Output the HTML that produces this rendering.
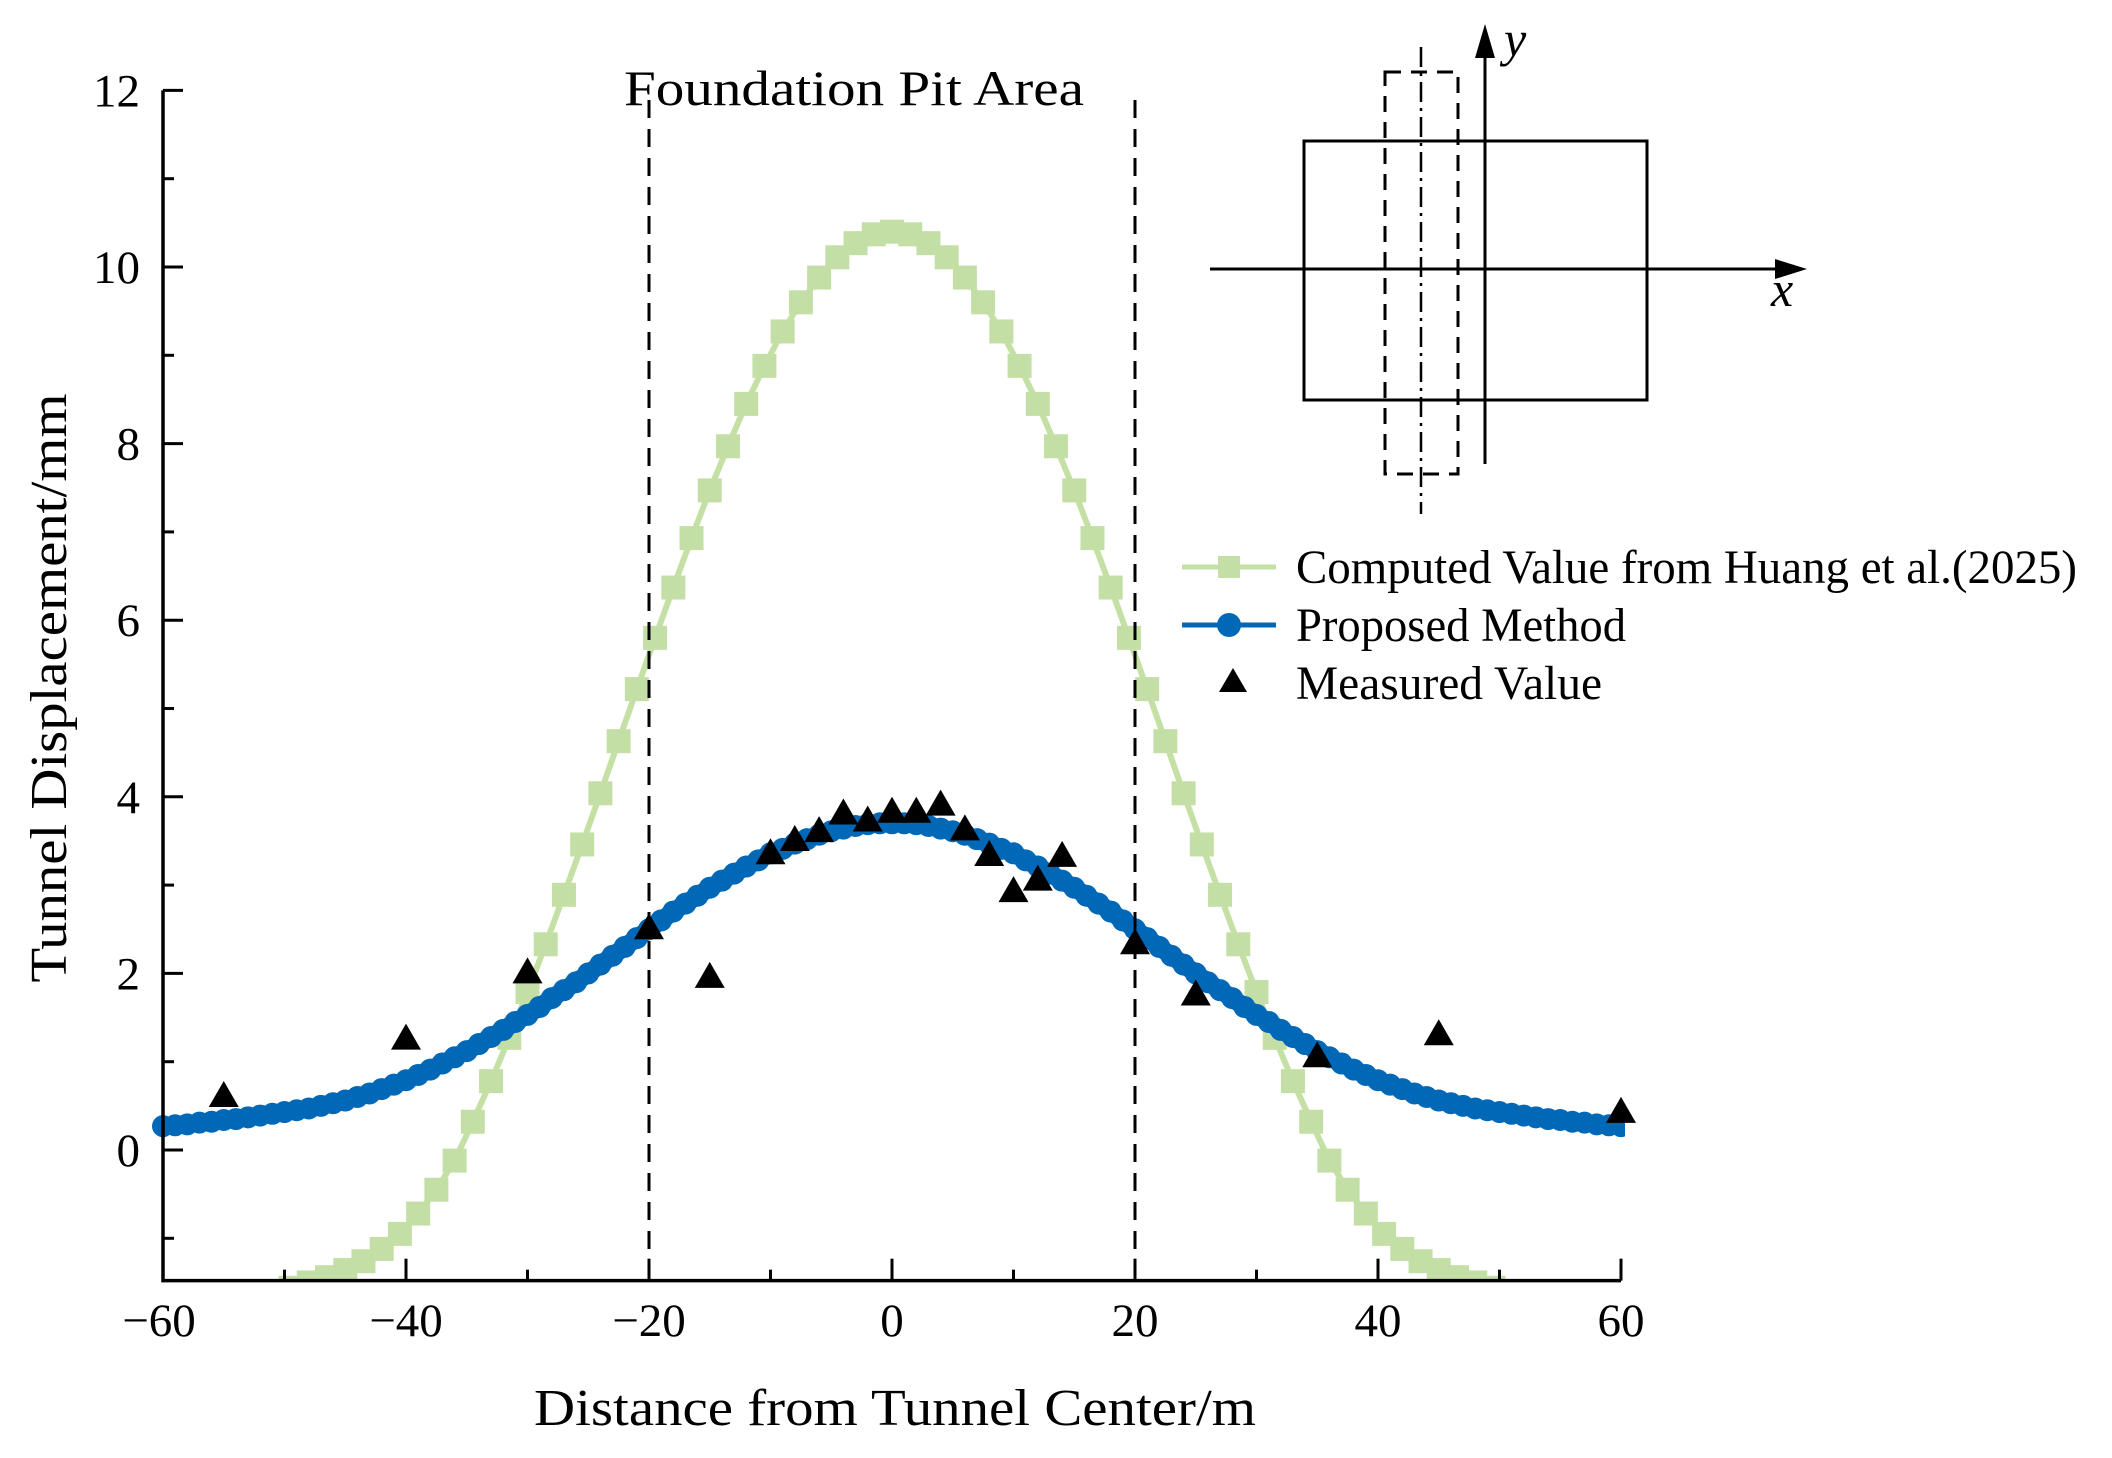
<!DOCTYPE html>
<html><head><meta charset="utf-8"><style>
html,body{margin:0;padding:0;background:#fff;}
svg{display:block;font-family:"Liberation Serif",serif;}
</style></head><body>
<svg id="chart" width="2112" height="1458" viewBox="0 0 2112 1458" xmlns="http://www.w3.org/2000/svg">
<defs><clipPath id="plotclip"><rect x="150" y="60" width="1475" height="1221"/></clipPath></defs>
<g id="plot" clip-path="url(#plotclip)"></g>
<g id="axes"></g>
<text x="854" y="105" font-size="50" text-anchor="middle" textLength="460" lengthAdjust="spacingAndGlyphs">Foundation Pit Area</text>
<text x="895" y="1425" font-size="52" text-anchor="middle" textLength="722" lengthAdjust="spacingAndGlyphs">Distance from Tunnel Center/m</text>
<text transform="translate(66,688) rotate(-90)" font-size="52" text-anchor="middle" textLength="589" lengthAdjust="spacingAndGlyphs">Tunnel Displacement/mm</text>
<g fill="none" stroke="#000" stroke-width="3" transform="translate(-7,0)">
<rect x="1311" y="141" width="343" height="259"/>
<line x1="1217" y1="269" x2="1790" y2="269"/>
<polygon points="1814,269 1782,259 1782,279" fill="#000" stroke="none"/>
<line x1="1492" y1="464" x2="1492" y2="50"/>
<polygon points="1492,24 1482,58 1502,58" fill="#000" stroke="none"/>
<rect x="1392" y="72" width="73" height="402" stroke-dasharray="16,10"/>
<line x1="1428" y1="47" x2="1428" y2="514" stroke-width="2.5" stroke-dasharray="20,6,3,6"/>
</g>
<text x="1504" y="56" font-size="50" font-style="italic">y</text>
<text x="1771" y="306" font-size="50" font-style="italic">x</text>
<g>
<g>
<line x1="1182" y1="567" x2="1276" y2="567" stroke="#c5e0a5" stroke-width="5"/>
<rect x="1218" y="556" width="22" height="22" fill="#c3dfa5"/>
<text x="1296" y="583" font-size="48" textLength="781" lengthAdjust="spacingAndGlyphs">Computed Value from Huang et al.(2025)</text>
</g>
<g>
<line x1="1182" y1="625" x2="1276" y2="625" stroke="#0068b7" stroke-width="5"/>
<circle cx="1229" cy="625" r="12" fill="#0068b7"/>
<text x="1296" y="641" font-size="48" textLength="330" lengthAdjust="spacingAndGlyphs">Proposed Method</text>
</g>
<g>
<polygon points="1233,668 1247,692 1219,692" fill="#000"/>
<text x="1296" y="699" font-size="48" textLength="306" lengthAdjust="spacingAndGlyphs">Measured Value</text>
</g>
</g>
</svg>
<script>
const greenX = [-49.5,-48,-46.5,-45,-43.5,-42,-40.5,-39,-37.5,-36,-34.5,-33,-31.5,-30,-28.5,-27,-25.5,-24,-22.5,-21,-19.5,-18,-16.5,-15,-13.5,-12,-10.5,-9,-7.5,-6,-4.5,-3,-1.5,0,1.5,3,4.5,6,7.5,9,10.5,12,13.5,15,16.5,18,19.5,21,22.5,24,25.5,27,28.5,30,31.5,33,34.5,36,37.5,39,40.5,42,43.5,45,46.5,48,49.5];
const greenY = [-1.56,-1.50,-1.44,-1.36,-1.26,-1.12,-0.95,-0.72,-0.45,-0.12,0.32,0.78,1.27,1.79,2.33,2.89,3.46,4.04,4.63,5.22,5.80,6.37,6.93,7.47,7.97,8.45,8.88,9.27,9.60,9.88,10.11,10.27,10.37,10.40,10.37,10.27,10.11,9.88,9.60,9.27,8.88,8.45,7.97,7.47,6.93,6.37,5.80,5.22,4.63,4.04,3.46,2.89,2.33,1.79,1.27,0.78,0.32,-0.12,-0.45,-0.72,-0.95,-1.12,-1.26,-1.36,-1.44,-1.50,-1.56];
const blueX = [-60,-59,-58,-57,-56,-55,-54,-53,-52,-51,-50,-49,-48,-47,-46,-45,-44,-43,-42,-41,-40,-39,-38,-37,-36,-35,-34,-33,-32,-31,-30,-29,-28,-27,-26,-25,-24,-23,-22,-21,-20,-19,-18,-17,-16,-15,-14,-13,-12,-11,-10,-9,-8,-7,-6,-5,-4,-3,-2,-1,0,1,2,3,4,5,6,7,8,9,10,11,12,13,14,15,16,17,18,19,20,21,22,23,24,25,26,27,28,29,30,31,32,33,34,35,36,37,38,39,40,41,42,43,44,45,46,47,48,49,50,51,52,53,54,55,56,57,58,59,60];
const blueY = [0.27,0.28,0.29,0.31,0.32,0.34,0.35,0.37,0.39,0.41,0.43,0.45,0.47,0.50,0.53,0.56,0.60,0.64,0.69,0.74,0.79,0.85,0.91,0.98,1.05,1.12,1.20,1.28,1.36,1.45,1.53,1.62,1.72,1.81,1.90,2.00,2.10,2.20,2.30,2.40,2.50,2.60,2.70,2.79,2.88,2.97,3.05,3.13,3.21,3.28,3.36,3.41,3.47,3.52,3.57,3.61,3.64,3.67,3.69,3.70,3.70,3.70,3.69,3.67,3.64,3.61,3.57,3.52,3.47,3.41,3.36,3.28,3.21,3.13,3.05,2.97,2.88,2.79,2.70,2.60,2.50,2.40,2.30,2.20,2.10,2.00,1.90,1.81,1.72,1.62,1.53,1.45,1.36,1.28,1.20,1.12,1.05,0.98,0.91,0.85,0.79,0.74,0.69,0.64,0.60,0.56,0.53,0.50,0.47,0.45,0.43,0.41,0.39,0.37,0.35,0.34,0.32,0.31,0.29,0.28,0.27];
const measX = [-55,-40,-30,-20,-15,-10,-8,-6,-4,-2,0,2,4,6,8,10,12,14,20,25,35,45,60];
const measY = [0.60,1.25,2.00,2.50,1.95,3.35,3.50,3.60,3.80,3.72,3.82,3.82,3.90,3.62,3.33,2.92,3.05,3.32,2.33,1.75,1.05,1.30,0.42];
const xTicks = [-60,-40,-20,0,20,40,60];
const xTickLabels = ["\u221260","\u221240","\u221220","0","20","40","60"];
const yTicks = [0,2,4,6,8,10,12];
const yTickLabels = ["0","2","4","6","8","10","12"];
const pitBounds = [-20,20];

const X0=163, X1=1621, XMIN=-60, XMAX=60;
const Y0PX=1150, YUNIT=88.3, YMIN=-1.48, YTOP=12;
function sx(v){return X0+(v-XMIN)*(X1-X0)/(XMAX-XMIN);}
function sy(v){return Y0PX-v*YUNIT;}
const NS="http://www.w3.org/2000/svg";
function mk(tag,attrs,parent){const e=document.createElementNS(NS,tag);for(const k in attrs)e.setAttribute(k,attrs[k]);parent.appendChild(e);return e;}
const plot=document.getElementById('plot');
const axes=document.getElementById('axes');
const svg=document.getElementById('chart');
const yBottom=sy(YMIN);

pitBounds.forEach(function(b){
  const l=mk('line',{x1:sx(b),x2:sx(b),y1:100,y2:yBottom,stroke:'#000','stroke-width':3,'stroke-dasharray':'18,11'},svg);
  
  
});

const gl=mk('polyline',{points:greenX.map(function(x,i){return sx(x)+','+sy(greenY[i]);}).join(' '),fill:'none',stroke:'#c5e0a5','stroke-width':6},plot);


greenX.forEach(function(x,i){
  const r=mk('rect',{x:sx(x)-12,y:sy(greenY[i])-12,width:24,height:24,fill:'#c3dfa5'},plot);
  
  
});
const bl=mk('polyline',{points:blueX.map(function(x,i){return sx(x)+','+sy(blueY[i]);}).join(' '),fill:'none',stroke:'#0068b7','stroke-width':18,'stroke-linejoin':'round'},plot);


blueX.forEach(function(x,i){
  const c=mk('circle',{cx:sx(x),cy:sy(blueY[i]),r:11,fill:'#0068b7'},plot);
  
  
});
measX.forEach(function(x,i){
  const cx=sx(x), cy=sy(measY[i]);
  const t=mk('polygon',{points:(cx)+','+(cy-16)+' '+(cx+15)+','+(cy+10)+' '+(cx-15)+','+(cy+10),fill:'#000'},svg);
  
  
});

const ya=mk('line',{x1:X0,x2:X0,y1:sy(YTOP),y2:yBottom+1.5,stroke:'#000','stroke-width':3.5},axes);


const xa=mk('line',{x1:X0-1.5,x2:X1,y1:yBottom,y2:yBottom,stroke:'#000','stroke-width':3.5},axes);


for(let v=-1; v<=11; v+=2){
  mk('line',{x1:X0,x2:X0+11,y1:sy(v),y2:sy(v),stroke:'#000','stroke-width':3},axes);
}
yTicks.forEach(function(v,i){
  const l=mk('line',{x1:X0,x2:X0+20,y1:sy(v),y2:sy(v),stroke:'#000','stroke-width':3},axes);
  
  
  const t=mk('text',{x:140,y:sy(v)+16,'font-size':47,'text-anchor':'end'},axes);
  t.textContent=yTickLabels[i];
  
  
});
for(let v=-50; v<=50; v+=20){
  mk('line',{x1:sx(v),x2:sx(v),y1:yBottom,y2:yBottom-11,stroke:'#000','stroke-width':3},axes);
}
xTicks.forEach(function(v,i){
  const l=mk('line',{x1:sx(v),x2:sx(v),y1:yBottom,y2:yBottom-22,stroke:'#000','stroke-width':3},axes);
  
  
  const t=mk('text',{x:sx(v)+(i===0?-4:0),y:1336,'font-size':47,'text-anchor':'middle'},axes);
  t.textContent=xTickLabels[i];
  
  
});
</script>
</body></html>
